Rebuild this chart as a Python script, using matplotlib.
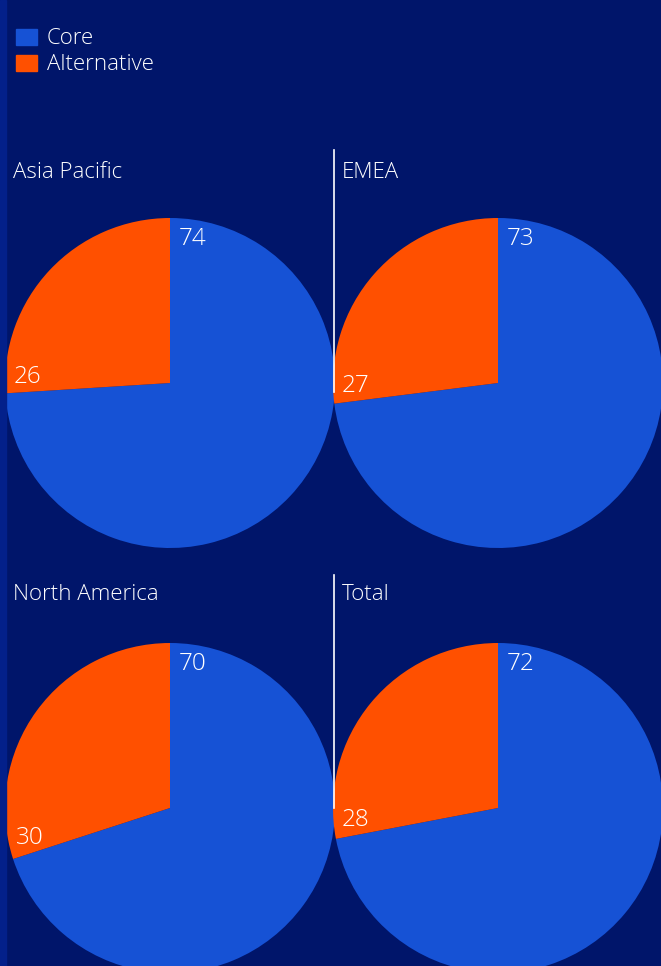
import matplotlib.pyplot as plt
import numpy as np

# data
regions = ["Asia Pacific", "EMEA", "North America", "Total"]
core = [74, 73, 70, 72]
alternative = [26, 27, 30, 28]
series = ["Core", "Alternative"]

bg = "#00156A"
c_core = "#1652D5"
c_alt = "#FF5000"

W, H = 661, 966
fig = plt.figure(figsize=(W / 100, H / 100), dpi=100)
fig.patch.set_facecolor(bg)
plt.rcParams["font.family"] = ["Open Sans", "DejaVu Sans"]
fw = "light"

# lighter strip on the left edge
fig.patches.append(plt.Rectangle((0, 0), 6 / W, 1, transform=fig.transFigure,
                                 color="#03208A", zorder=0))

# legend
for i, (name, col) in enumerate(zip(series, [c_core, c_alt])):
    y = 37 + i * 26
    fig.patches.append(plt.Rectangle((16 / W, 1 - (y + 8) / H), 21 / W, 16 / H,
                                     transform=fig.transFigure, color=col))
    fig.text(47 / W, 1 - (y + 2) / H, name, color="white", fontsize=16,
             fontweight=fw, va="center")

centers = [(170, 383), (498, 383), (170, 808), (498, 808)]
title_pos = [(13, 170), (342, 170), (13, 593), (342, 593)]
r = 165
# (distance along wedge edge, offset into the wedge) for the two labels
lab_off = [(0.873, 0.135), (0.862, 0.09)]

for k in range(4):
    cx, cy = centers[k]
    ax = fig.add_axes([(cx - r) / W, 1 - (cy + r) / H, 2 * r / W, 2 * r / H])
    vals = [core[k], alternative[k]]
    ax.pie(vals, colors=[c_core, c_alt], startangle=90, counterclock=False,
           radius=1, wedgeprops=dict(linewidth=0))
    ax.set_xlim(-1, 1)
    ax.set_ylim(-1, 1)
    ax.set_aspect("equal")
    ax.axis("off")
    # labels at the start of each wedge, near the rim
    start = 90.0
    for v, (a, p) in zip(vals, lab_off):
        th = np.radians(start)
        px = a * np.cos(th) + p * np.sin(th)
        py = a * np.sin(th) - p * np.cos(th)
        ax.text(px, py, str(v), color="white", fontsize=17.5, fontweight=fw,
                ha="center", va="center")
        start -= v / 100 * 360

    tx, ty = title_pos[k]
    fig.text(tx / W, 1 - (ty + 2) / H, regions[k], color="white", fontsize=16,
             fontweight=fw, va="center")

# separators
for top, bot in [(150, 392), (575, 808)]:
    fig.add_artist(plt.Line2D([334 / W, 334 / W], [1 - top / H, 1 - bot / H],
                              color="white", linewidth=1.2))

fig.savefig("out.png", dpi=100, facecolor=bg)
